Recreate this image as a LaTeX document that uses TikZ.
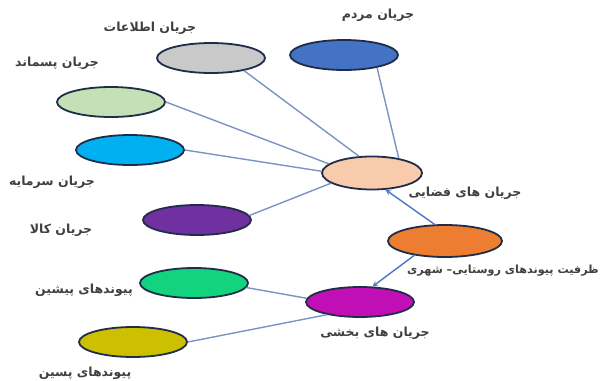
\documentclass[tikz,border=0pt]{standalone}
\usepackage{fontspec}
\newfontfamily\arabicfont[Script=Arabic]{DejaVu Sans}
\TeXXeTstate=1
\usetikzlibrary{shapes.geometric,arrows}
\definecolor{rim}{HTML}{1F2D4A}
\definecolor{linkblue}{HTML}{7A93C4}
\definecolor{arrowblue}{HTML}{4A76C6}
\definecolor{cinfo}{HTML}{C9C9C9}
\definecolor{cpeople}{HTML}{4472C4}
\definecolor{cwaste}{HTML}{C5E0B4}
\definecolor{ccapital}{HTML}{00B0F0}
\definecolor{cspace}{HTML}{F8CBAD}
\definecolor{cgoods}{HTML}{7030A0}
\definecolor{clink}{HTML}{ED7D31}
\definecolor{cfore}{HTML}{12D47E}
\definecolor{csector}{HTML}{C00FB4}
\definecolor{cback}{HTML}{CCC000}
\newcommand{\fa}[1]{\arabicfont\beginR #1\endR}

\begin{document}
\begin{tikzpicture}[>=stealth,x=1pt,y=-1pt,
    flow/.style={ellipse,draw=rim,line width=1.8pt,minimum width=108pt,minimum height=30pt,inner sep=0pt},
    lbl/.style={font=\fontsize{12.5}{15}\selectfont\bfseries,text=black!75,inner sep=0pt},
    link/.style={color=linkblue,line width=1.4pt},
    push/.style={->,color=arrowblue,line width=1.4pt}]
    \useasboundingbox (0,0) rectangle (601,380);
    %\draw[help lines,step=50] (0,0) grid (600,380);
    \node[flow,fill=cinfo] (info) at (211,58) {};
    \node[flow,fill=cpeople] (people) at (344,55) {};
    \node[flow,fill=cwaste] (waste) at (111,102) {};
    \node[flow,fill=ccapital] (capital) at (130,150) {};
    \node[flow,fill=cspace,minimum width=100pt,minimum height=33pt] (space) at (372,173) {};
    \node[flow,fill=cgoods] (goods) at (197,220) {};
    \node[flow,fill=clink,minimum width=114pt,minimum height=32pt] (rural) at (445,241) {};
    \node[flow,fill=cfore] (fore) at (194,283) {};
    \node[flow,fill=csector] (sector) at (360,302) {};
    \node[flow,fill=cback] (back) at (133,342) {};
    % labels
    \node[lbl] (infoL) at (150,28) {\fa{جریان اطلاعات}};
    \node[lbl] (peopleL) at (378,15) {\fa{جریان مردم}};
    \node[lbl] (wasteL) at (57,63) {\fa{جریان پسماند}};
    \node[lbl] (capitalL) at (52,182) {\fa{جریان سرمایه}};
    \node[lbl] (spaceL) at (465,193) {\fa{جریان های فضایی}};
    \node[lbl] (goodsL) at (61,230) {\fa{جریان کالا}};
    \node[lbl,anchor=east,font=\fontsize{11.2}{13}\selectfont\bfseries] (ruralL) at (599,271) {\fa{ظرفیت پیوندهای روستایی– شهری}};
    \node[lbl] (foreL) at (84,290) {\fa{پیوندهای پیشین}};
    \node[lbl] (backL) at (85,373) {\fa{پیوندهای پسین}};
    \node[lbl] (sectorL) at (375,333) {\fa{جریان های بخشی}};
    % connectors
    \draw[link] (info.-21) -- (space.128);
    \draw[link] (people.-21) -- (space.29);
    \draw[link] (waste.east) -- (space.168);
    \draw[link] (capital.east) -- (space.178);
    \draw[link] (goods.5) -- (space.194);
    \draw[link] (fore.-5) -- (sector.176);
    \draw[link] (back.east) -- (sector.201);
    \draw[push] (rural.122) -- (space.-51);
    \draw[push] (rural.205) -- (sector.51);
\end{tikzpicture}
\end{document}
